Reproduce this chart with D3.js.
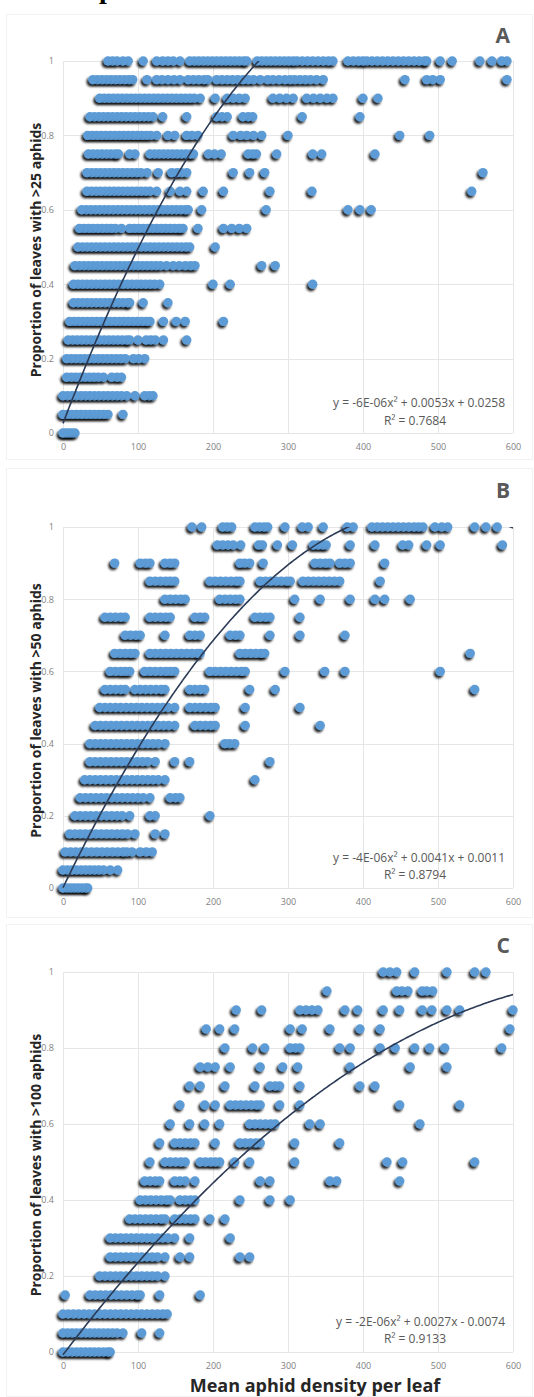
<!DOCTYPE html>
<html><head><meta charset="utf-8">
<script src="https://cdn.jsdelivr.net/npm/d3@7"></script>
<style>body{margin:0;background:#fff}svg{display:block}</style>
</head><body><svg id="c" width="534" height="1397"></svg>
<script>
const xTicks=[0,100,200,300,400,500,600];
const yTicks=[0,0.2,0.4,0.6,0.8,1];
const yTickLabels=["0","0.2","0.4","0.6","0.8","1"];
const panelLetters=["A","B","C"];
const yTitles=["Proportion of leaves with >25 aphids","Proportion of leaves with >50 aphids","Proportion of leaves with >100 aphids"];
const xTitle="Mean aphid density per leaf";
const eqTexts=["y = -6E-06x\u00B2 + 0.0053x + 0.0258","y = -4E-06x\u00B2 + 0.0041x + 0.0011","y = -2E-06x\u00B2 + 0.0027x - 0.0074"];
const r2Texts=["R\u00B2 = 0.7684","R\u00B2 = 0.8794","R\u00B2 = 0.9133"];
// trendline coefficients [a,b,c] as drawn in picture
const trendA=[-6e-6,0.0053,0.0258];
const trendB=[-4.4e-6,0.0043,0.0011];
const trendC=[-1.7e-6,0.0026,-0.0074];

const rowsA=[
[1.00,[60,66,72,80,87,107,125,133,140,147,156,169,175,181,187,193,199,205,211,217,223,229,235,241,245,259,265,271,277,283,289,295,301,307,312,319,326,333,340,347,354,360,380,387,394,400,405,412,419,426,433,440,447,454,461,468,475,482,485,503,519,556,572,585,592]],
[0.95,[40,46,52,58,64,70,76,82,88,93,112,125,132,140,148,156,167,174,181,188,193,205,212,219,226,233,240,247,254,263,273,280,288,296,303,309,316,323,330,338,347,456,485,493,503,592]],
[0.90,[49,55,61,67,73,79,85,91,97,103,109,115,121,127,133,139,145,151,157,163,169,175,183,203,219,227,235,243,280,289,298,307,325,334,343,352,360,400,420]],
[0.85,[36,42,48,54,60,66,72,78,84,90,96,102,108,114,120,133,165,205,212,219,240,247,253,319,396]],
[0.80,[33,39,45,51,57,63,69,75,81,87,93,99,105,111,117,125,140,149,165,172,180,227,237,245,254,265,300,449,489]],
[0.75,[34,40,46,52,58,64,70,74,89,96,116,122,128,134,140,146,152,158,164,170,174,194,202,211,247,253,258,285,333,345,416]],
[0.70,[32,38,44,50,56,62,68,74,80,86,92,98,104,112,127,145,152,158,165,227,249,269,560]],
[0.65,[32,38,44,50,56,62,68,74,80,86,92,98,104,110,116,125,143,156,165,187,214,276,332,545]],
[0.60,[25,31,37,43,49,55,61,67,73,79,85,91,97,103,109,115,121,127,133,139,145,151,157,163,167,185,271,380,396,411]],
[0.55,[22,28,34,40,46,52,58,64,70,78,89,95,101,107,113,119,125,131,137,143,149,155,160,180,214,225,235,245]],
[0.50,[20,26,32,38,44,50,56,62,68,74,80,86,92,98,104,110,116,122,128,134,140,146,152,158,164,169,203]],
[0.45,[16,22,28,34,40,46,52,58,64,70,76,82,88,94,100,106,112,118,124,130,138,147,155,163,170,176,265,283]],
[0.40,[14,20,26,32,38,44,50,56,62,68,74,80,86,92,98,104,110,116,122,129,200,223,333]],
[0.35,[14,20,26,32,38,44,50,56,62,68,74,80,86,89,107,140]],
[0.30,[9,15,21,27,33,39,45,51,57,63,69,75,81,87,93,99,105,111,116,134,151,163,214]],
[0.25,[7,13,19,25,31,37,43,49,55,61,67,73,79,85,89,100,111,117,123,134,165]],
[0.20,[5,11,17,23,29,35,41,47,53,59,65,71,77,83,94,101,109]],
[0.15,[5,11,17,23,29,35,41,47,54,65,72,78]],
[0.10,[0,6,12,18,24,30,36,42,48,54,60,66,72,78,85,96,109,115,120]],
[0.05,[0,6,12,18,24,30,36,42,48,54,60,80]],
[0.00,[0,4,8,12,16]]
];
const rowsB=[
[1.00,[172,185,213,219,225,256,262,268,273,296,319,327,347,379,387,412,419,426,433,440,447,454,461,468,474,480,496,505,513,549,564,579]],
[0.95,[206,213,220,227,237,261,266,286,306,334,340,346,351,383,416,453,461,485,503,586]],
[0.90,[69,103,110,116,136,143,149,236,242,249,267,336,343,350,356,369,376,383,429]],
[0.85,[116,123,130,137,143,149,196,203,210,217,224,231,236,263,270,277,284,291,298,303,320,327,334,341,348,355,362,369,423]],
[0.80,[136,143,150,157,163,209,216,223,230,236,309,343,383,416,429,463]],
[0.75,[56,63,70,77,83,116,123,130,137,143,176,183,189,256,263,270,276,316]],
[0.70,[83,90,97,103,136,169,176,183,223,230,236,276,316,376]],
[0.65,[69,76,83,90,96,116,123,130,137,144,151,158,165,172,179,183,236,243,250,257,264,269,543]],
[0.60,[63,70,77,83,89,109,116,123,130,137,143,149,196,203,210,217,224,231,238,243,296,349,376,503]],
[0.55,[56,63,70,77,83,96,103,110,117,124,131,136,169,176,183,189,249,283,549]],
[0.50,[49,56,63,70,77,84,91,98,105,112,119,126,133,140,149,169,176,183,190,197,203,243,316]],
[0.45,[43,50,57,64,71,78,85,92,99,106,113,120,127,134,141,149,176,183,190,197,203,243,343]],
[0.40,[36,43,50,57,64,71,78,85,92,99,106,113,120,127,136,216,222,229]],
[0.35,[36,43,50,57,64,71,78,85,92,99,106,113,123,149,169,276]],
[0.30,[29,36,43,50,57,64,71,78,85,92,99,106,113,120,127,136,256]],
[0.25,[23,30,37,44,51,58,65,72,79,86,93,100,107,116,143,150,156]],
[0.20,[16,23,30,37,44,51,58,65,72,79,89,116,123,196]],
[0.15,[9,16,23,30,37,44,51,58,65,72,79,86,96,123,136]],
[0.10,[3,10,17,24,31,38,45,52,59,66,73,80,85,92,103,111,119]],
[0.05,[0,6,12,18,24,30,36,42,48,54,63,73]],
[0.00,[0,5,10,15,20,25,30,33]]
];
const rowsC=[
[1.00,[427,436,445,469,512,549,564]],
[0.95,[352,445,452,460,479,485,493]],
[0.90,[231,265,316,324,332,340,376,393,427,449,479,492,512,529,600]],
[0.85,[191,209,229,303,319,356,396,423,596]],
[0.80,[216,253,269,303,310,316,369,383,423,443,469,489,509,585]],
[0.75,[183,193,203,223,263,293,313,383,463,512]],
[0.70,[169,183,216,256,276,283,289,316,396,416]],
[0.65,[156,189,203,223,230,237,244,251,258,263,289,316,449,529]],
[0.60,[143,169,189,209,249,256,263,270,277,283,329,343,476]],
[0.55,[129,149,156,163,170,176,203,236,243,250,257,263,309,369]],
[0.50,[116,136,143,150,157,163,183,190,197,203,209,229,249,309,432,453,549]],
[0.45,[109,116,123,129,149,156,163,176,263,276,356,365,449]],
[0.40,[103,110,117,124,131,138,143,156,163,170,176,236,276,303]],
[0.35,[89,96,103,110,117,124,131,136,149,156,163,170,176,196,216]],
[0.30,[63,70,77,84,91,98,105,112,119,126,133,140,149,169,223]],
[0.25,[63,70,77,84,91,98,105,112,119,126,136,156,169,236,249]],
[0.20,[49,56,63,70,77,84,91,98,105,112,119,126,136]],
[0.15,[3,36,43,50,57,64,71,78,85,92,99,103,129,183]],
[0.10,[0,7,14,21,28,35,42,49,56,63,70,77,84,91,98,105,112,119,126,133,139]],
[0.05,[0,6,12,18,24,30,36,42,48,54,60,66,72,80,105,129]],
[0.00,[0,6,12,18,24,30,36,42,48,54,60,63]]
];

const svg=d3.select("#c");
const defs=svg.append("defs");
const f=defs.append("filter").attr("id","sh").attr("x","-80%").attr("y","-80%").attr("width","260%").attr("height","260%");
f.append("feDropShadow").attr("dx",-1.8).attr("dy",2.4).attr("stdDeviation",1.2).attr("flood-color","#000").attr("flood-opacity",0.88);

// cut-off heading glyph at top (as in the reference)
svg.append("text").attr("x",99).attr("y",-2).attr("font-family","Liberation Serif").attr("font-weight","bold").attr("font-size",28).attr("fill","#000").text("p");

const panels=[
 {rows:rowsA,trend:trendA,top:61,bottom:433,frameTop:14,frameBottom:460,letterY:43,eqY:407,r2Y:425,letter:panelLetters[0],yTitle:yTitles[0],eq:eqTexts[0],r2:r2Texts[0]},
 {rows:rowsB,trend:trendB,top:527,bottom:888,frameTop:468,frameBottom:918,letterY:498,eqY:862,r2Y:879,letter:panelLetters[1],yTitle:yTitles[1],eq:eqTexts[1],r2:r2Texts[1]},
 {rows:rowsC,trend:trendC,top:972,bottom:1352,frameTop:924,frameBottom:1397,letterY:953,eqY:1326,r2Y:1343,letter:panelLetters[2],yTitle:yTitles[2],eq:eqTexts[2],r2:r2Texts[2]}
];
const left=63,right=513;
panels.forEach((p,i)=>{
  const g=svg.append("g");
  const x=d3.scaleLinear().domain([0,600]).range([left,right]);
  const y=d3.scaleLinear().domain([0,1]).range([p.bottom,p.top]);
  g.append("rect").attr("x",6.5).attr("y",p.frameTop+0.5).attr("width",526).attr("height",p.frameBottom-p.frameTop-1).attr("fill","none").attr("stroke","#f2f2f2");
  g.selectAll(".hg").data(yTicks).join("line").attr("x1",left).attr("x2",right).attr("y1",d=>Math.round(y(d))+0.5).attr("y2",d=>Math.round(y(d))+0.5).attr("stroke","#e6e6e6").attr("stroke-width",1);
  g.selectAll(".vg").data(xTicks).join("line").attr("y1",p.top).attr("y2",p.bottom).attr("x1",d=>Math.round(x(d))+0.5).attr("x2",d=>Math.round(x(d))+0.5).attr("stroke","#e6e6e6").attr("stroke-width",1);
  const ya=d3.axisLeft(y).tickValues(yTicks).tickFormat((d,k)=>yTickLabels[k]).tickSize(0).tickPadding(9);
  const yg=g.append("g").attr("transform",`translate(${left},0)`).call(ya);
  yg.select(".domain").remove();
  yg.selectAll("text").attr("font-family","Open Sans").attr("font-size",9).attr("fill","#7f7f7f");
  const xa=d3.axisBottom(x).tickValues(xTicks).tickSize(0).tickPadding(11);
  const xg=g.append("g").attr("transform",`translate(0,${p.bottom})`).call(xa);
  xg.select(".domain").remove();
  xg.selectAll("text").attr("font-family","Open Sans").attr("font-size",9).attr("fill","#7f7f7f");
  const pts=[];
  p.rows.forEach(r=>r[1].forEach(v=>pts.push([v,r[0]])));
  pts.sort((a,b)=>b[0]-a[0]);
  g.append("g").selectAll("circle").data(pts).join("circle")
   .attr("cx",d=>x(d[0])).attr("cy",d=>y(d[1])).attr("r",4.7)
   .attr("fill","#5b9bd5").attr("filter","url(#sh)");
  const clipId="clip"+i;
  defs.append("clipPath").attr("id",clipId).append("rect").attr("x",left-5).attr("y",p.top).attr("width",right-left+5).attr("height",p.bottom-p.top+5);
  const xs=d3.range(0,601,2);
  const line=d3.line().x(d=>x(d)).y(d=>y(p.trend[0]*d*d+p.trend[1]*d+p.trend[2]));
  g.append("path").datum(xs).attr("d",line).attr("fill","none").attr("stroke","#2b3a55").attr("stroke-width",1.6).attr("clip-path",`url(#${clipId})`);
  g.append("text").attr("x",510).attr("y",p.letterY).attr("text-anchor","end").attr("font-family","Open Sans").attr("font-weight","bold").attr("font-size",21).attr("fill","#595959").text(p.letter);
  g.append("text").attr("x",505).attr("y",p.eqY).attr("text-anchor","end").attr("font-family","Open Sans").attr("font-size",12).attr("fill","#595959").text(p.eq);
  g.append("text").attr("x",415).attr("y",p.r2Y).attr("text-anchor","middle").attr("font-family","Open Sans").attr("font-size",12).attr("fill","#595959").text(p.r2);
  g.append("text").attr("transform",`translate(41,${(p.top+p.bottom)/2+3}) rotate(-90)`).attr("text-anchor","middle").attr("font-family","Open Sans").attr("font-weight","bold").attr("font-size",14).attr("fill","#262626").text(p.yTitle);
});
svg.append("text").attr("x",315).attr("y",1392).attr("text-anchor","middle").attr("font-family","Open Sans").attr("font-weight","bold").attr("font-size",18).attr("fill","#262626").text(xTitle);
</script></body></html>
